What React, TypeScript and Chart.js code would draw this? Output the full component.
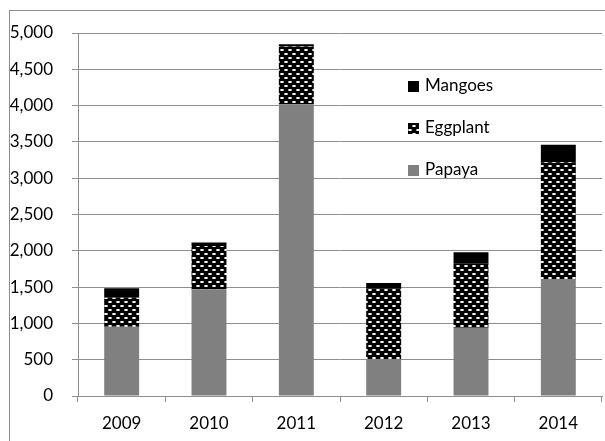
import React, { useEffect, useRef } from "react";
import { Chart, registerables } from "chart.js";

Chart.register(...registerables);

const categories = ["2009", "2010", "2011", "2012", "2013", "2014"];
const papaya = [955, 1470, 4020, 510, 940, 1605];
const eggplant = [400, 595, 795, 975, 890, 1615];
const mangoes = [130, 50, 30, 70, 150, 240];
const seriesNames = ["Papaya", "Eggplant", "Mangoes"];
const yMin = 0;
const yMax = 5000;
const yStep = 500;

const FONT_FAMILY = "Lato, 'Open Sans', sans-serif";
const GRID = "#8e8e8e";

function fmt(v: number): string {
  const s = String(Math.round(v));
  return s.replace(/\B(?=(\d{3})+(?!\d))/g, ",");
}

function makePattern(): CanvasPattern | string {
  const c = document.createElement("canvas");
  c.width = 8;
  c.height = 8;
  const p = c.getContext("2d");
  if (!p) return "#222";
  p.fillStyle = "#000";
  p.fillRect(0, 0, 8, 8);
  p.fillStyle = "#9a9a9a";
  p.fillRect(0, 1, 4, 2);
  p.fillRect(4, 5, 4, 2);
  p.fillStyle = "#f4f4f4";
  p.fillRect(1, 1, 2, 2);
  p.fillRect(5, 5, 2, 2);
  const pat = p.createPattern(c, "repeat");
  return pat || "#222";
}

const legendPlugin = {
  id: "insideLegend",
  afterDraw(chart: any) {
    const { ctx, chartArea } = chart;
    const ds = chart.data.datasets.slice().reverse();
    const x0 = chartArea.left + 330;
    const y0 = chartArea.top + 53;
    const step = 42;
    ctx.save();
    ctx.font = `17px ${FONT_FAMILY}`;
    ctx.textBaseline = "middle";
    ctx.textAlign = "left";
    ds.forEach((d: any, i: number) => {
      const cy = y0 + i * step;
      ctx.fillStyle = d.backgroundColor;
      ctx.fillRect(x0, Math.round(cy - 5.5), 11, 11);
      ctx.fillStyle = "#000";
      ctx.fillText(d.label, x0 + 17, cy);
    });
    ctx.restore();
  },
};

export default function App() {
  const ref = useRef<HTMLCanvasElement | null>(null);

  useEffect(() => {
    if (!ref.current) return;
    const pattern = makePattern();
    const chart = new Chart(ref.current, {
      type: "bar",
      data: {
        labels: categories,
        datasets: [
          { label: seriesNames[0], data: papaya, backgroundColor: "#808080", borderWidth: 0 },
          { label: seriesNames[1], data: eggplant, backgroundColor: pattern as any, borderWidth: 0 },
          { label: seriesNames[2], data: mangoes, backgroundColor: "#000000", borderWidth: 0 },
        ],
      },
      options: {
        responsive: false,
        animation: false,
        devicePixelRatio: 1,
        layout: { padding: { left: 0, right: 3, top: 33, bottom: 0 } },
        datasets: { bar: { barPercentage: 0.4, categoryPercentage: 1 } },
        plugins: { legend: { display: false }, tooltip: { enabled: false }, title: { display: false } },
        scales: {
          x: {
            stacked: true,
            grid: { offset: true, drawOnChartArea: false, drawTicks: true, tickLength: 6, color: GRID, lineWidth: 1 },
            border: { color: GRID, width: 1 },
            ticks: { color: "#000", font: { family: FONT_FAMILY, size: 17 }, padding: 11 },
            afterFit(scale: any) {
              scale.height = 45;
            },
          },
          y: {
            stacked: true,
            min: yMin,
            max: yMax,
            grid: { color: GRID, lineWidth: 1, tickLength: 6, drawTicks: true },
            border: { color: GRID, width: 1 },
            ticks: {
              stepSize: yStep,
              color: "#000",
              font: { family: FONT_FAMILY, size: 17 },
              padding: 19,
              callback: (v: any) => fmt(Number(v)),
            },
            afterFit(scale: any) {
              scale.width = 78;
            },
          },
        },
      },
      plugins: [legendPlugin],
    });
    return () => chart.destroy();
  }, []);

  return (
    <div style={{ position: "fixed", left: 0, top: 0, width: 605, height: 441, overflow: "hidden", background: "#fff" }}>
      <div style={{ position: "absolute", left: 9, top: 10, width: 700, height: 600, border: `1px solid ${GRID}` }} />
      <canvas ref={ref} width={605} height={441} style={{ position: "absolute", left: 0, top: 0, width: 605, height: 441 }} />
    </div>
  );
}
